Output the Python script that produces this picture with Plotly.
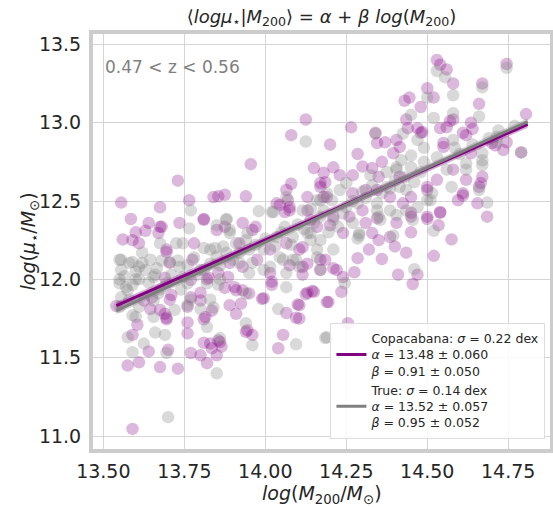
import plotly.graph_objects as go

# ---- data ----
copa_x = [14.125,14.08,14.15,13.955,13.73,13.555,13.585,13.675,13.765,13.81,13.855,13.875,13.94,13.64,13.675,13.735,14.08,14.065,14.13,14.045,14.075,
14.53,14.54,14.56,14.745,14.58,14.67,14.50,14.52,14.43,14.445,14.48,14.66,14.58,14.57,14.56,14.54,14.635,14.64,14.62,14.805,14.735,14.79,14.265,14.20,14.285,14.21,14.30,14.34,14.37,14.405,14.415,14.435,14.44,14.47,14.485,14.55,14.635,14.70,14.17,14.23,14.27,14.33,14.53,14.58,14.67,14.66,14.61,14.595,14.655,14.685,14.50,14.45,14.415,14.35,14.385,14.45,14.50,14.31,14.26,14.21,14.13,
14.575,14.52,14.535,14.50,14.54,14.435,14.36,14.32,14.40,14.41,14.455,14.47,14.45,14.35,14.285,14.275,14.24,14.22,14.15,14.13,14.195,14.235,14.255,14.105,14.105,14.345,14.20,14.17,14.21,14.385,14.45,
13.56,13.54,13.61,13.60,13.63,13.67,13.68,13.695,13.705,13.65,13.645,13.695,13.69,13.59,13.575,13.61,13.605,13.64,13.70,13.675,13.73,13.59,13.76,13.76,13.77,13.81,13.80,13.82,13.835,13.85,13.855,13.865,13.815,13.835,13.80,13.76,13.89,13.91,13.925,13.945,13.96,13.995,14.065,14.095,14.055,14.04,14.125,14.145,13.875,13.905,13.93,14.02,13.77,13.81,13.85,13.93,13.97,13.78,13.775,13.93,14.015,14.02,14.065,14.115,14.035,14.075,14.14,14.105,13.69,13.71,13.77,13.825,13.885,13.625,
14.61,14.665,14.54,14.62,14.55,14.61,14.745,14.71,
14.345,14.48,14.395,14.36,14.185,14.50,14.345,14.27,14.19,14.30,14.425,14.405,14.31,14.24,14.33,
14.18,14.07,14.06,14.17,14.18,14.16,14.115,14.13,14.185,14.075,13.975,13.875,13.96,13.92,13.89,14.015,13.855,14.115,14.17,
13.84,13.59,13.695,13.705,13.80,13.675,13.695,
13.82,13.91,13.95,13.81,13.99,14.10,14.19,13.94,13.83,13.86]
copa_y = [13.02,12.92,12.71,12.735,12.63,12.49,12.385,12.46,12.505,12.385,12.53,12.54,12.53,12.36,12.335,12.36,12.61,12.57,12.525,12.475,12.46,
13.40,13.37,13.34,13.375,13.25,13.25,13.22,13.16,13.14,13.16,13.10,13.12,13.02,13.01,12.97,12.965,13.00,12.96,12.92,13.055,12.825,12.81,12.97,12.86,12.80,12.715,12.72,12.935,12.875,12.89,12.845,13.02,12.965,12.965,12.94,12.87,12.805,12.87,12.615,12.665,12.665,12.71,12.635,12.70,12.655,12.59,12.55,12.505,12.485,12.40,12.59,12.525,12.655,12.655,12.525,12.40,12.40,12.57,12.40,12.40,12.44,
12.255,12.15,12.345,12.385,12.425,12.17,12.13,12.19,12.21,12.03,11.97,12.03,12.30,12.25,12.135,12.045,12.015,12.06,11.92,11.915,11.855,11.92,11.72,11.75,11.835,12.39,12.345,12.125,12.07,12.27,12.425,
12.255,11.83,12.23,12.30,12.31,12.295,12.335,12.175,12.105,11.885,11.81,11.745,11.78,11.645,11.45,11.47,11.71,11.54,11.55,11.44,11.43,11.045,11.655,11.725,11.53,11.595,11.515,11.465,11.56,11.515,11.61,11.57,11.76,11.80,11.865,11.825,11.835,11.78,11.845,11.675,11.645,11.88,11.785,11.755,11.645,11.56,11.905,11.925,11.945,11.95,11.93,11.965,11.885,12.38,12.315,12.36,12.335,12.23,12.125,12.08,12.19,11.985,12.23,12.08,12.485,12.44,12.38,12.19,12.01,11.90,11.995,12.01,12.015,11.865,
12.535,12.615,12.43,12.635,12.845,12.935,12.875,12.855,
12.87,12.935,12.805,12.75,12.62,12.57,12.57,12.55,12.525,12.44,12.485,12.36,12.36,12.295,12.295,
12.68,12.505,12.43,12.59,12.525,12.335,12.205,12.10,12.125,12.09,12.125,12.335,12.315,12.23,12.105,12.04,12.04,12.03,12.06,
12.525,12.25,12.19,11.87,11.915,11.805,11.755,
12.00,11.93,11.91,11.745,11.875,11.84,11.855,11.665,11.59,11.60]

true_x = [14.125,13.77,13.98,13.88,14.02,14.065,14.16,
14.53,14.555,14.745,14.58,14.67,14.50,14.45,14.66,14.58,14.52,14.79,14.34,14.47,14.49,14.58,14.585,14.67,14.715,14.19,14.405,14.45,14.62,14.67,14.575,14.685,14.515,14.50,14.415,14.375,14.435,14.345,14.285,14.17,
14.52,14.46,14.405,14.285,14.245,14.19,14.225,14.14,14.21,14.17,14.105,14.29,14.35,
13.555,13.555,13.55,13.555,13.58,13.61,13.675,13.62,13.645,13.66,13.59,13.61,13.59,13.575,13.59,13.625,13.66,13.69,13.695,13.70,13.85,13.86,13.82,13.84,13.80,13.94,13.96,14.04,14.095,13.94,14.065,13.76,13.88,13.89,13.725,13.745,13.83,13.87,13.80,13.85,13.90,13.96,13.91,13.94,13.995,13.995,14.035,14.055,14.085,14.115,14.14,14.16,13.76,13.82,13.855,13.655,13.67,13.575,
14.66,14.62,14.67,14.715,
14.425,14.45,14.42,14.405,14.25,14.325,14.375,14.48,14.435,14.385,14.30,14.23,14.205,14.25,14.345,14.385,14.47,14.51,14.455,14.355,14.27,14.195,14.29,14.395,
14.025,14.06,14.14,14.17,14.13,14.085,14.17,14.16,14.095,14.045,14.015,13.945,13.89,13.85,13.92,13.95,14.065,
13.765,13.81,13.845,13.55,13.59,13.62,13.705,13.735,13.81,13.55,13.60,13.655,13.695,13.745,13.58,13.675,13.74,13.77,13.55,13.61,13.72,13.655,13.60,
13.86,13.83,14.185,
13.565,13.57,13.60,13.63,13.64,13.665,13.68,13.71,13.73,13.76,13.78,13.79,13.83,13.86,13.88,13.92,13.95,13.97,14.00,14.03,14.05,14.08,14.10,14.12,14.15,14.18,14.21,14.24,14.27,14.31,14.33,14.36,14.40,14.43,14.46,14.49,14.53,14.56,14.60,14.64,14.69,14.72,14.77]
true_y = [12.88,12.44,12.435,12.385,12.43,12.525,12.505,
13.33,13.29,13.35,13.175,13.225,13.16,13.05,13.04,13.06,13.03,12.81,12.93,12.89,12.84,12.89,12.84,12.805,12.91,12.55,12.70,12.715,12.74,12.73,12.59,12.49,12.55,12.505,12.59,12.59,12.44,12.44,12.485,12.505,
12.31,12.065,12.41,12.26,11.975,11.63,12.335,12.25,12.19,12.06,12.08,12.295,12.40,
12.125,12.06,11.975,11.885,12.105,12.08,12.23,12.17,12.125,12.03,11.965,12.00,11.77,11.63,11.535,11.59,11.66,11.645,11.53,11.12,11.40,11.625,11.695,11.82,11.81,11.72,11.58,11.81,11.585,11.91,11.95,11.835,12.38,12.295,12.23,12.23,12.19,12.21,12.06,12.145,12.125,12.105,12.23,12.25,12.19,12.06,12.27,12.125,12.125,12.44,12.295,12.19,11.975,11.975,11.965,11.865,11.91,11.93,
12.57,12.70,12.76,12.875,
12.93,12.79,12.76,12.715,12.615,12.665,12.685,12.685,12.57,12.58,12.56,12.57,12.505,12.46,12.485,12.44,12.46,12.505,12.38,12.38,12.36,12.30,12.28,12.28,
12.43,12.335,12.45,12.40,12.295,12.27,12.25,12.14,12.125,12.14,12.08,12.295,12.315,12.345,12.105,12.04,12.04,
12.325,12.20,12.20,12.125,12.11,12.105,12.11,12.08,12.06,12.00,12.00,12.015,11.975,12.015,11.87,11.935,11.935,11.87,11.825,11.825,11.805,11.76,11.76,
12.00,11.87,11.625,
12.02,11.95,12.05,12.06,11.98,12.07,12.12,12.03,12.12,12.09,12.14,12.03,12.10,12.09,12.17,12.17,12.19,12.22,12.26,12.21,12.30,12.22,12.35,12.32,12.36,12.44,12.38,12.42,12.50,12.52,12.60,12.55,12.63,12.65,12.62,12.75,12.78,12.70,12.80,12.86,12.90,12.95,12.98]

fit_x = [13.54, 14.81]
pivot = 15.35
copa_alpha, copa_beta = 13.48, 0.91
true_alpha, true_beta = 13.52, 0.95

copa_label = "Copacabana: <i>σ</i> = 0.22 dex<br><i>α</i> = 13.48 ± 0.060<br><i>β</i> = 0.91 ± 0.050"
true_label = "True: <i>σ</i> = 0.14 dex<br><i>α</i> = 13.52 ± 0.057<br><i>β</i> = 0.95 ± 0.052"

x_ticks = [13.50, 13.75, 14.00, 14.25, 14.50, 14.75]
y_ticks = [11.0, 11.5, 12.0, 12.5, 13.0, 13.5]

PURPLE = "rgb(128,0,128)"
GRAY = "rgb(128,128,128)"
FONT = "DejaVu Sans"
TXT = "#262626"

def fit(a, b):
    return [a + b * (x - pivot) for x in fit_x]

fig = go.Figure()
fig.add_trace(go.Scatter(x=copa_x, y=copa_y, mode="markers", showlegend=False,
                         marker=dict(size=12.5, color="rgba(128,0,128,0.28)", line=dict(width=0))))
fig.add_trace(go.Scatter(x=true_x, y=true_y, mode="markers", showlegend=False,
                         marker=dict(size=12.5, color="rgba(128,128,128,0.30)", line=dict(width=0))))

hw = 0.022
for a, b, fc in [(copa_alpha, copa_beta, "rgba(128,0,128,0.3)"), (true_alpha, true_beta, "rgba(128,128,128,0.35)")]:
    yy = fit(a, b)
    fig.add_trace(go.Scatter(x=fit_x + fit_x[::-1],
                             y=[v + hw for v in yy] + [v - hw for v in yy[::-1]],
                             fill="toself", fillcolor=fc, line=dict(width=0),
                             mode="lines", showlegend=False, hoverinfo="skip"))

fig.add_trace(go.Scatter(x=fit_x, y=fit(copa_alpha, copa_beta), mode="lines",
                         line=dict(color=PURPLE, width=3), name=copa_label))
fig.add_trace(go.Scatter(x=fit_x, y=fit(true_alpha, true_beta), mode="lines",
                         line=dict(color=GRAY, width=3), name=true_label))

fig.add_annotation(x=13.5, y=13.355, xref="x", yref="y", text="0.47 < z < 0.56",
                   showarrow=False, xanchor="left", yanchor="middle",
                   font=dict(family=FONT, size=17, color="#808080"))

# axis titles placed explicitly
fig.add_annotation(x=0.5, y=-0.11, xref="paper", yref="paper", yanchor="middle",
                   text="<i>log</i>(<i>M</i><sub>200</sub>/<i>M</i><sub>⊙</sub>)",
                   showarrow=False, font=dict(family=FONT, size=19, color=TXT))
fig.add_annotation(x=-0.14, y=0.5, xref="paper", yref="paper", xanchor="center", textangle=-90,
                   text="<i>log</i>(<i>μ</i><sub>⋆</sub>/<i>M</i><sub>⊙</sub>)",
                   showarrow=False, font=dict(family=FONT, size=19, color=TXT))

axis_common = dict(showgrid=True, gridcolor="#d5d5d5", gridwidth=1, zeroline=False,
                   showline=True, mirror=True, linecolor="#cccccc", linewidth=4,
                   ticks="", automargin=False,
                   tickfont=dict(family=FONT, size=19, color=TXT))

fig.update_layout(
    width=553, height=507,
    margin=dict(l=93, r=3, t=34, b=58, autoexpand=False),
    paper_bgcolor="white", plot_bgcolor="white",
    title=dict(text="⟨<i>logμ</i><sub>⋆</sub>|<i>M</i><sub>200</sub>⟩ = <i>α</i> + <i>β log</i>(<i>M</i><sub>200</sub>)",
               x=0.5, xref="paper", xanchor="center", y=0.968, yanchor="middle",
               font=dict(family=FONT, size=18, color=TXT)),
    xaxis=dict(range=[13.468, 14.879], tickvals=x_ticks, ticktext=[f"{v:.2f}" for v in x_ticks],
               ticklabelstandoff=2, **axis_common),
    yaxis=dict(range=[10.917, 13.566], tickvals=y_ticks, ticktext=[f"{v:.1f}" for v in y_ticks],
               ticklabelstandoff=4, **axis_common),
    legend=dict(x=0.99, y=0.025, xanchor="right", yanchor="bottom",
                bgcolor="rgba(255,255,255,0.85)", bordercolor="#dddddd", borderwidth=1,
                font=dict(family=FONT, size=12.5, color=TXT), tracegroupgap=0),
    showlegend=True,
)

# remove the default page margin so the figure sits at the window's top-left corner
fig.write_html("out.html", config={"displayModeBar": False},
               post_script="document.body.style.margin='0';document.body.style.padding='0';")
